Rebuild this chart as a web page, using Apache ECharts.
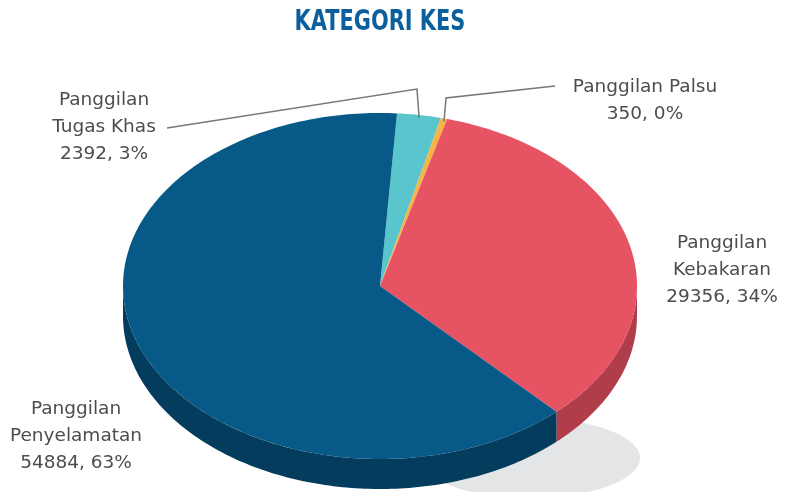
<!DOCTYPE html>
<html>
<head>
<meta charset="utf-8">
<script src="https://cdn.jsdelivr.net/npm/echarts@6/dist/echarts.min.js"></script>
<style>html,body{margin:0;padding:0;background:#fff}#main{width:785px;height:492px}</style>
</head>
<body>
<div id="main"></div>
<script>
const titleText = 'KATEGORI KES';
const categories = ['Panggilan\nTugas Khas', 'Panggilan Palsu', 'Panggilan\nKebakaran', 'Panggilan\nPenyelamatan'];
const values = [2392, 350, 29356, 54884];
const topColors = ['#5ac5cc', '#f7b446', '#e65363', '#075a87'];
const sideColors = ['#3d9ca2', '#c98e2f', '#b13c4a', '#033c5d'];

// layout (not data)
const geo = { cx: 380, cy: 286, rx: 257, ry: 173, depth: 30, start: 3.8 };
const labelLayout = [
  { x: 104, y: 127, elbow: [[167, 128], [417, 89]] },
  { x: 645, y: 101, elbow: [[555, 86], [446, 98]] },
  { x: 722, y: 270, elbow: null },
  { x: 76, y: 436, elbow: null }
];

const total = values.reduce((a, b) => a + b, 0);
const cum = [];
values.reduce((acc, v, i) => { cum[i] = acc; return acc + v; }, 0);

function pt(tDeg, dy) {
  const t = tDeg * Math.PI / 180;
  return [geo.cx + geo.rx * Math.sin(t), geo.cy - geo.ry * Math.cos(t) + (dy || 0)];
}
function arc(a, b, dy) {
  const pts = [];
  const n = Math.max(2, Math.ceil(Math.abs(b - a)));
  for (let i = 0; i <= n; i++) pts.push(pt(a + (b - a) * i / n, dy));
  return pts;
}

function renderItem(params, api) {
  const i = params.dataIndex;
  const v = api.value(0);
  const a = geo.start + cum[i] / total * 360;
  const b = a + v / total * 360;
  const children = [];
  if (i === 0) {
    const sh = [];
    for (let k = 0; k < 72; k++) {
      const t = k / 72 * Math.PI * 2;
      sh.push([geo.cx + 150 + 110 * Math.cos(t), geo.cy + 172 + 40 * Math.sin(t)]);
    }
    children.push({ type: 'polygon', z2: 0, shape: { points: sh }, style: { fill: '#e4e5e7' } });
  }
  const s = Math.max(a, 90), e = Math.min(b, 270);
  if (e > s) {
    const pts = arc(s, e, 0).concat(arc(e, s, geo.depth));
    children.push({ type: 'polygon', z2: 1, shape: { points: pts }, style: { fill: sideColors[i] } });
  }
  const top = [[geo.cx, geo.cy]].concat(arc(a, b, 0));
  children.push({ type: 'polygon', z2: 2, shape: { points: top }, style: { fill: topColors[i] } });
  const pct = Math.round(v / total * 100);
  const L = labelLayout[i];
  children.push({
    type: 'text', z2: 4, x: L.x, y: L.y,
    style: {
      text: categories[i] + '\n' + v + ', ' + pct + '%',
      fill: '#4d4d4d', font: '18.5px "DejaVu Sans", sans-serif',
      align: 'center', verticalAlign: 'middle', lineHeight: 27
    }
  });
  if (L.elbow) {
    const m = pt((a + b) / 2, 3);
    children.push({
      type: 'polyline', z2: 3,
      shape: { points: L.elbow.concat([m]) },
      style: { stroke: '#777777', lineWidth: 1.5, fill: null }
    });
  }
  return { type: 'group', children };
}

const chart = echarts.init(document.getElementById('main'));
chart.setOption({
  animation: false,
  graphic: [{
    type: 'text', x: 380, y: 23, scaleX: 0.83, originX: 0, originY: 0,
    style: {
      text: titleText, fill: '#0b5f9d',
      font: 'bold 28px "DejaVu Sans Condensed", sans-serif',
      align: 'center', verticalAlign: 'middle'
    }
  }],
  series: [{
    type: 'custom', coordinateSystem: 'none',
    renderItem: renderItem,
    data: values.map(v => [v])
  }]
});
</script>
</body>
</html>
